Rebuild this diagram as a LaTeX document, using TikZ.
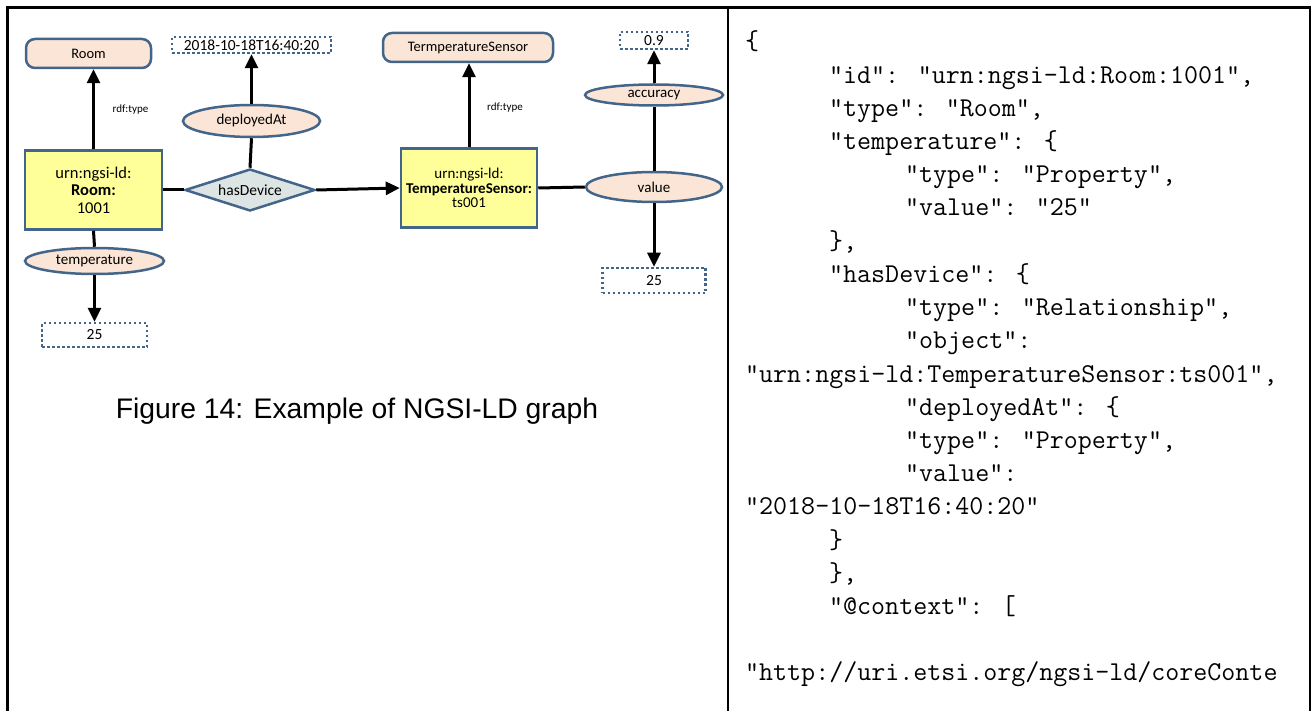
\documentclass[tikz,border=0pt]{standalone}
\usepackage{fontspec}
\setmainfont{Liberation Sans}
\newfontfamily\calfont{Carlito}
\usetikzlibrary{shapes.geometric,arrows.meta}

\definecolor{peach}{HTML}{FBE5D6}
\definecolor{edgeblue}{HTML}{44658A}
\definecolor{paleyellow}{HTML}{FFFF99}
\definecolor{relgray}{HTML}{DDE4E4}

\begin{document}
\begin{tikzpicture}[x=1pt,y=-1pt,
  cls/.style={draw=edgeblue,fill=peach,line width=2.5pt,rounded corners=9pt,
    minimum height=29pt,inner sep=0pt,font=\calfont\fontsize{14.5}{16}\selectfont},
  ent/.style={draw=edgeblue,fill=paleyellow,line width=2.5pt,minimum width=137pt,
    minimum height=79pt,inner sep=0pt,align=center},
  prop/.style={ellipse,draw=edgeblue,fill=peach,line width=2.5pt,inner sep=0pt,
    font=\calfont\fontsize{15}{17}\selectfont},
  lit/.style={draw=edgeblue,dash pattern=on 2.5pt off 2.5pt,line width=2.5pt,
    inner sep=0pt,font=\calfont\fontsize{15.5}{17}\selectfont},
  rel/.style={diamond,draw=edgeblue,fill=relgray,line width=2.5pt,inner sep=0pt,
    aspect=3,minimum width=130pt,minimum height=42pt,font=\calfont\fontsize{15.5}{17}\selectfont},
  lbl/.style={inner sep=0pt,font=\calfont\fontsize{11}{13}\selectfont},
  link/.style={line width=3pt},
  arr/.style={link,-{Triangle[length=14pt,width=13pt]}},
  json/.style={anchor=base west,inner sep=0pt,font=\ttfamily\fontsize{27.2}{30}\selectfont},
]
\useasboundingbox (0,0) rectangle (1314,711);

% table frame
\coordinate (tl) at (7.5,711);
\coordinate (tt) at (7.5,7.5);
\coordinate (tr) at (1310,7.5);
\coordinate (br) at (1310,711);
\coordinate (mt) at (728,7.5);
\coordinate (mb) at (728,711);
\draw[line width=2.7pt] (tl) -- (tt) -- (tr) -- (br);
\draw[line width=2.7pt] (mt) -- (mb);

% graph
\node[cls,minimum width=125pt] (roomtype) at (88.5,53.5) {Room};
\node[cls,minimum width=170pt] (tstype) at (468,47.5) {TermperatureSensor};
\node[ent,font=\calfont\fontsize{16.5}{17.5}\selectfont] (roombox) at (93.5,190)
  {urn:ngsi-ld:\\\textbf{Room:}\\1001};
\node[ent,minimum width=136pt,font=\calfont\fontsize{15}{14.5}\selectfont] (tsbox) at (469,188)
  {urn:ngsi-ld:\\\textbf{TemperatureSensor:}\\ts001};
\node[rel] (hasdev) at (250,190) {hasDevice};
\node[prop,minimum width=137pt,minimum height=32pt] (deployed) at (251.5,121) {deployedAt};
\node[prop,minimum width=139pt,minimum height=26pt] (temp) at (94.5,261) {temperature};
\node[prop,minimum width=136pt,minimum height=30pt] (value) at (654,187) {value};
\node[prop,minimum width=138pt,minimum height=21pt] (accuracy) at (654,95) {accuracy};
\node[lit,minimum width=159pt,minimum height=16pt] (val2018) at (251.5,45) {2018-10-18T16:40:20};
\node[lit,minimum width=105pt,minimum height=24pt] (val25a) at (94.5,335) {25};
\node[lit,minimum width=68pt,minimum height=17pt] (val09) at (654,40.5) {0.9};
\node[lit,minimum width=103pt,minimum height=25pt] (val25b) at (654,280.5) {25};

\draw[arr] (roombox.north) -- (roombox.north |- roomtype.south);
\draw[arr] (tsbox.north) -- (tsbox.north |- tstype.south);
\node[lbl] (rdfroom) at (130.5,110) {rdf:type};
\node[lbl] (rdfts) at (505,108) {rdf:type};

\draw[link] (roombox.east) -- (hasdev.west);
\draw[arr] (hasdev.east) -- (tsbox.west);
\draw[link] (hasdev.north) -- (deployed.south);
\draw[arr] (deployed.north) -- (val2018.south);
\draw[link] (roombox.south) -- (temp.north);
\draw[arr] (temp.south) -- (val25a.north);
\draw[link] (tsbox.east) -- (value.west);
\draw[link] (value.north) -- (accuracy.south);
\draw[arr] (accuracy.north) -- (val09.south);
\draw[arr] (value.south) -- (val25b.north);

\node[anchor=base,inner sep=0pt,font=\fontsize{28.3}{34}\selectfont] (caption) at (357,418)
  {Figure 14: Example of NGSI-LD graph};

% json
\node[json] (j0) at (745,50) {\{};
\node[json] (j1) at (829,83.2) {"id": "urn:ngsi-ld:Room:1001",};
\node[json] (j2) at (829,116.4) {"type": "Room",};
\node[json] (j3) at (829,149.6) {"temperature": \{};
\node[json] (j4) at (905,182.8) {"type": "Property",};
\node[json] (j5) at (905,216) {"value": "25"};
\node[json] (j6) at (829,249.2) {\},};
\node[json] (j7) at (829,282.4) {"hasDevice": \{};
\node[json] (j8) at (905,315.6) {"type": "Relationship",};
\node[json] (j9) at (905,348.8) {"object":};
\node[json] (j10) at (745,382) {"urn:ngsi-ld:TemperatureSensor:ts001",};
\node[json] (j11) at (905,415.2) {"deployedAt": \{};
\node[json] (j12) at (905,448.4) {"type": "Property",};
\node[json] (j13) at (905,481.6) {"value":};
\node[json] (j14) at (745,514.8) {"2018-10-18T16:40:20"};
\node[json] (j15) at (829,548) {\}};
\node[json] (j16) at (829,581.2) {\},};
\node[json] (j17) at (829,614.4) {"@context": [};
\node[json] (j19) at (745,680.8) {"http://uri.etsi.org/ngsi-ld/coreConte};

\end{tikzpicture}
\end{document}
